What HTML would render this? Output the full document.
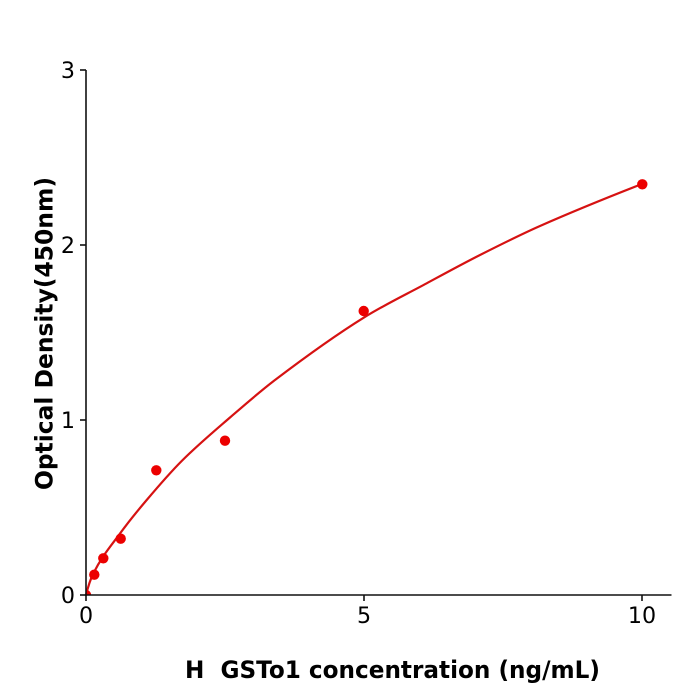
<!DOCTYPE html>
<html>
<head>
<meta charset="utf-8">
<style>
  html, body { margin: 0; padding: 0; background: #ffffff; }
  svg { display: block; }
  text { font-family: "DejaVu Sans", "Liberation Sans", sans-serif; fill: #000; }
</style>
</head>
<body>
<svg width="700" height="700" viewBox="0 0 700 700" xmlns="http://www.w3.org/2000/svg">
  <rect x="0" y="0" width="700" height="700" fill="#ffffff"/>
  <defs>
    <clipPath id="plotclip">
      <rect x="86" y="60" width="600" height="535"/>
    </clipPath>
  </defs>

  <!-- fitted curve -->
  <path fill="none" stroke="#d61212" stroke-width="2.2" stroke-linejoin="round" stroke-linecap="round"
    d="M86,595
       C88.43,585.27 90.87,578.37 93.3,573.5
       C102.2,555.7 111.1,545.69 120,533.5
       C128.9,521.31 137.8,510.5 146.7,500
       C158.37,486.23 170.03,472.67 181.7,461
       C197.8,444.9 213.9,431.43 230,417.5
       C245,404.52 260,391.4 275,380
       C304.77,357.38 334.53,335.76 364.3,317.3
       C385.1,304.4 405.9,294.53 426.7,283.3
       C444.47,273.7 462.23,263.97 480,255
       C500,244.9 520,234.8 540,226
       C574,211.04 608,197.26 642,184"/>

  <!-- data points -->
  <g fill="#ec0000">
    <circle cx="86" cy="595" r="5.2" clip-path="url(#plotclip)"/>
    <circle cx="94.3" cy="574.7" r="5.2"/>
    <circle cx="103.3" cy="558.3" r="5.2"/>
    <circle cx="120.7" cy="538.7" r="5.2"/>
    <circle cx="156.3" cy="470.3" r="5.2"/>
    <circle cx="225" cy="440.7" r="5.2"/>
    <circle cx="363.7" cy="311" r="5.2"/>
    <circle cx="642.3" cy="184.3" r="5.2"/>
  </g>

  <!-- axes -->
  <g stroke="#111" stroke-width="1.6" fill="none">
    <line x1="86" y1="70" x2="86" y2="595.8"/>
    <line x1="85.2" y1="595" x2="671.5" y2="595"/>
    <!-- y ticks -->
    <line x1="80" y1="70" x2="86" y2="70"/>
    <line x1="80" y1="245" x2="86" y2="245"/>
    <line x1="80" y1="420" x2="86" y2="420"/>
    <line x1="80" y1="595" x2="86" y2="595"/>
    <!-- x ticks -->
    <line x1="86" y1="595" x2="86" y2="601"/>
    <line x1="364" y1="595" x2="364" y2="601"/>
    <line x1="642" y1="595" x2="642" y2="601"/>
  </g>

  <!-- y tick labels -->
  <g font-size="22.2" text-anchor="end">
    <text x="75" y="78">3</text>
    <text x="75" y="253">2</text>
    <text x="75" y="428">1</text>
    <text x="75" y="603">0</text>
  </g>

  <!-- x tick labels -->
  <g font-size="22.2" text-anchor="middle">
    <text x="86" y="623">0</text>
    <text x="364" y="623">5</text>
    <text x="642" y="623">10</text>
  </g>

  <!-- axis labels -->
  <text x="392.5" y="678" font-size="23.6" font-weight="bold" text-anchor="middle"
        style="white-space:pre" xml:space="preserve" textLength="415" lengthAdjust="spacingAndGlyphs">H  GSTo1 concentration (ng/mL)</text>

  <text transform="translate(52.5,333.5) rotate(-90)" x="0" y="0" font-size="23.6" font-weight="bold"
        text-anchor="middle" textLength="313" lengthAdjust="spacingAndGlyphs">Optical Density(450nm)</text>
</svg>
</body>
</html>
